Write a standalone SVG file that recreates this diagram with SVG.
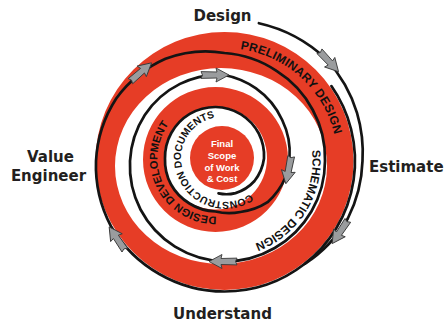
<svg xmlns="http://www.w3.org/2000/svg" width="445" height="322" viewBox="0 0 445 322">
<defs>
<style>
.red{fill:#e63d26}
.ln{fill:none;stroke:#141414;stroke-width:2.7;stroke-linecap:round;stroke-linejoin:round}
.lbl{font-family:"DejaVu Sans",sans-serif;font-weight:bold;font-size:15px;fill:#231f20}
.arc{font-family:"Liberation Sans",Arial,sans-serif;font-weight:bold;fill:#111}
.ctr{font-family:"Liberation Sans",Arial,sans-serif;font-weight:bold;font-size:9.5px;fill:#fff;text-anchor:middle}
.arr{fill:#9a9c9e;stroke:#3a3a3a;stroke-width:0.9;stroke-linejoin:round}
</style>
<path id="arr" d="M14,0 L1,-7 L2,-3 L-14,-3.4 L-12.5,0 L-14,3.4 L2,3 L1,7 Z"/>
<path id="tp1" d="M240.2,49.1 A113,113 0 0 1 335.8,180.6"/>
<path id="tp2" d="M311.8,150.3 A88,88 0 0 1 224.5,249"/>
<path id="tp3" d="M250.4,194 A44,44 0 0 1 214.7,200.4 A42,42 0 0 1 186.5,178.5 A41,41 0 0 1 222,117 A41,41 0 0 1 236,119.5"/>
<path id="tp4" d="M216.5,216.5 A58,58 0 0 1 178.2,114"/>
</defs>
<rect width="445" height="322" fill="#fff"/>

<g id="outer-band">
<path class="red" fill-rule="evenodd" d="M95.5,161 a129,129 0 1,0 258,0 a129,129 0 1,0 -258,0 Z M115,166 a106,98 0 1,0 212,0 a106,98 0 1,0 -212,0 Z"/>
<text class="arc" font-size="12" letter-spacing="0.2"><textPath href="#tp1">PRELIMINARY DESIGN</textPath></text>
</g>
<g id="schematic">
<text class="arc" font-size="11.8"><textPath href="#tp2">SCHEMATIC DESIGN</textPath></text>
</g>
<g id="middle-band">
<path class="red" fill-rule="evenodd" d="M143,159.5 a72.5,72.5 0 1,0 145,0 a72.5,72.5 0 1,0 -145,0 Z M164,158 a51.5,51.5 0 1,0 103,0 a51.5,51.5 0 1,0 -103,0 Z"/>
<text class="arc" font-size="11"><textPath href="#tp4">DESIGN DEVELOPMENT</textPath></text>
</g>
<g id="construction">
<text class="arc" font-size="10.3"><textPath href="#tp3">CONSTRUCTION DOCUMENTS</textPath></text>
</g>
<g id="final-scope">
<circle class="red" cx="222" cy="158" r="32"/>
<text class="ctr" x="222" y="147">Final</text>
<text class="ctr" x="222" y="158.5">Scope</text>
<text class="ctr" x="222" y="170.5">of Work</text>
<text class="ctr" x="222" y="182">&amp; Cost</text>
</g>

<g id="connectors">
<path class="ln" d="M331.4,86.1 A130.5,130.5 0 0 1 304.8,263.8"/>
<path class="ln" d="M258.9,23.2 A143,143 0 0 1 326.3,59.2 A142.5,142.5 0 0 1 357,112.8 A139.5,139.5 0 0 1 362.5,161 A137,137 0 0 1 347.8,218.5 A133,133 0 0 1 304.8,263.8 A130.5,130.5 0 0 1 224.5,291.5 A130.5,130.5 0 0 1 159.25,274 A130.7,130.7 0 0 1 111.1,226.5 A129.7,129.7 0 0 1 96,161 A126.7,126.7 0 0 1 116.25,98.5 A121.5,121.5 0 0 1 165.5,58.8 A113,113 0 0 1 224.5,53 A106,106 0 0 1 276.5,70.9 A103,103 0 0 1 312.8,110 A101.2,101.2 0 0 1 325,161 A100.5,100.5 0 0 1 311.5,211.25 A100.5,100.5 0 0 1 274.75,248 A100.5,100.5 0 0 1 224.5,261.5 A99.7,99.7 0 0 1 175,246.7 A98,98 0 0 1 140.5,209.5 A95.7,95.7 0 0 1 130,161 A93.2,93.2 0 0 1 144.8,115 A90.5,90.5 0 0 1 180,83.9 A87.5,87.5 0 0 1 224.5,75 A83,83 0 0 1 256,88.4 A79,79 0 0 1 282.2,120 A75.5,75.5 0 0 1 289.5,158.5 A73,73 0 0 1 285.5,177.3 A70,70 0 0 1 267.6,202.2 A64,64 0 0 1 240.4,212 A56,56 0 0 1 215.5,211.5 A52.5,52.5 0 0 1 189.5,203.5 A51.7,51.7 0 0 1 170.9,184.25 A51,51 0 0 1 165,158.5 A50.7,50.7 0 0 1 171.3,133 A51.2,51.2 0 0 1 189.75,113.9 A51.5,51.5 0 0 1 215.5,107 A51.2,51.2 0 0 1 241,114.3 A50.5,50.5 0 0 1 258.8,133.5 A49.2,49.2 0 0 1 264,158.5 A46.7,46.7 0 0 1 254.5,181 A42.5,42.5 0 0 1 235.5,193.1 A37,37 0 0 1 218.5,193.4"/>
<use class="arr" href="#arr" transform="translate(329,61.5) rotate(47)"/>
<use class="arr" href="#arr" transform="translate(340,232) rotate(124)"/>
<use class="arr" href="#arr" transform="translate(117,238.5) rotate(236)"/>
<use class="arr" href="#arr" transform="translate(141,72) rotate(-41)"/>
<use class="arr" href="#arr" transform="translate(223,261.5) rotate(180)"/>
<use class="arr" href="#arr" transform="translate(215,75) rotate(0)"/>
<use class="arr" href="#arr" transform="translate(288.5,170) rotate(101)"/>
</g>

<g id="label-design"><text class="lbl" x="222.5" y="21" text-anchor="middle">Design</text></g>
<g id="label-estimate"><text class="lbl" x="369" y="172">Estimate</text></g>
<g id="label-understand"><text class="lbl" x="222.5" y="319" text-anchor="middle">Understand</text></g>
<g id="label-value-engineer">
<text class="lbl" x="50.5" y="162" text-anchor="middle">Value</text>
<text class="lbl" x="48.5" y="181" text-anchor="middle">Engineer</text>
</g>
</svg>
